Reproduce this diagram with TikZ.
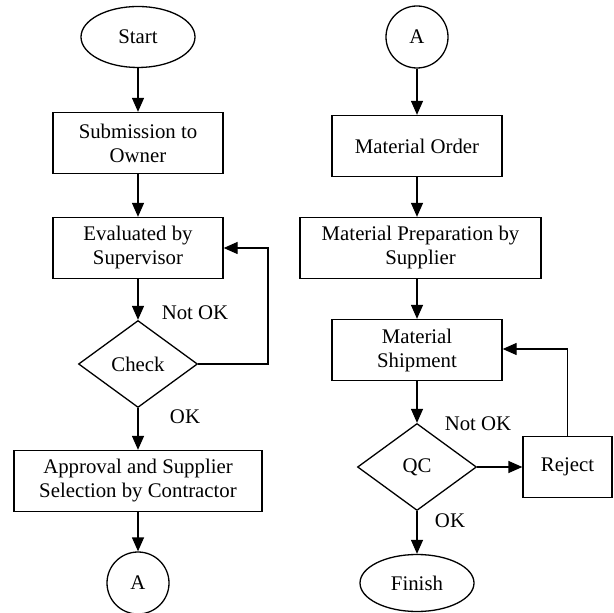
\documentclass[tikz,border=0pt]{standalone}
\usepackage{fontspec}
\setmainfont{Liberation Serif}
\usetikzlibrary{shapes.geometric,arrows.meta}
\begin{document}
\begin{tikzpicture}[x=0.5pt,y=-0.5pt,
  every node/.style={font=\fontsize{10.4}{12}\selectfont},
  base/.style={draw, line width=0.65pt, inner sep=0pt, align=center},
  procbox/.style={base, rectangle, minimum height=30.5pt},
  terminal/.style={base, ellipse, minimum width=57pt, minimum height=30.5pt},
  connector/.style={base, circle, minimum size=31pt},
  decision/.style={base, diamond, minimum width=59.5pt, minimum height=43.5pt},
  flow/.style={line width=0.65pt, -{Triangle[length=7pt,width=6pt]}},
  lbl/.style={inner sep=0pt}]
\useasboundingbox (0,0) rectangle (614,613);

% left column
\node[terminal] (start) at (138,37) {Start};
\node[procbox, minimum width=85pt] (submit) at (138,143) {Submission to\\Owner};
\node[procbox, minimum width=85pt] (eval) at (138,248) {Evaluated by\\Supervisor};
\node[decision] (check) at (138,364) {Check};
\node[procbox, minimum width=124pt] (approve) at (138,481) {Approval and Supplier\\Selection by Contractor};
\node[connector] (aout) at (138,583) {A};

\draw[flow] (start) -- (submit);
\draw[flow] (submit) -- (eval);
\draw[flow] (eval) -- (check);
\draw[flow] (check) -- (approve);
\draw[flow] (approve) -- (aout);
\coordinate (lb) at (268,364);
\coordinate (lt) at (268,248);
\draw[flow] (check.east) -- (lb) -- (lt) -- (eval.east);
\node[lbl] (notok1) at (195,313) {Not OK};
\node[lbl] (ok1) at (185,417) {OK};

% right column
\node[connector] (ain) at (417,37) {A};
\node[procbox, minimum width=85pt] (order) at (417,146) {Material Order};
\node[procbox, minimum width=120.5pt] (prep) at (420.5,248) {Material Preparation by\\Supplier};
\node[procbox, minimum width=85pt] (ship) at (417,350) {Material\\Shipment};
\node[decision] (qc) at (417,467) {QC};
\node[procbox, minimum width=44.5pt] (reject) at (567.5,467) {Reject};
\node[terminal, minimum height=28.5pt] (finish) at (417,583) {Finish};

\draw[flow] (ain) -- (order);
\draw[flow] (order) -- (order |- prep.north);
\draw[flow] (prep.south -| ship) -- (ship);
\draw[flow] (ship) -- (qc);
\draw[flow] (qc) -- (reject);
\draw[flow] (qc) -- (finish);
\coordinate (rt) at (567.5,349);
\draw[flow] (reject.north) -- (rt) -- (ship.east |- rt);
\node[lbl] (notok2) at (478,424) {Not OK};
\node[lbl] (ok2) at (450,521) {OK};
\end{tikzpicture}
\end{document}
